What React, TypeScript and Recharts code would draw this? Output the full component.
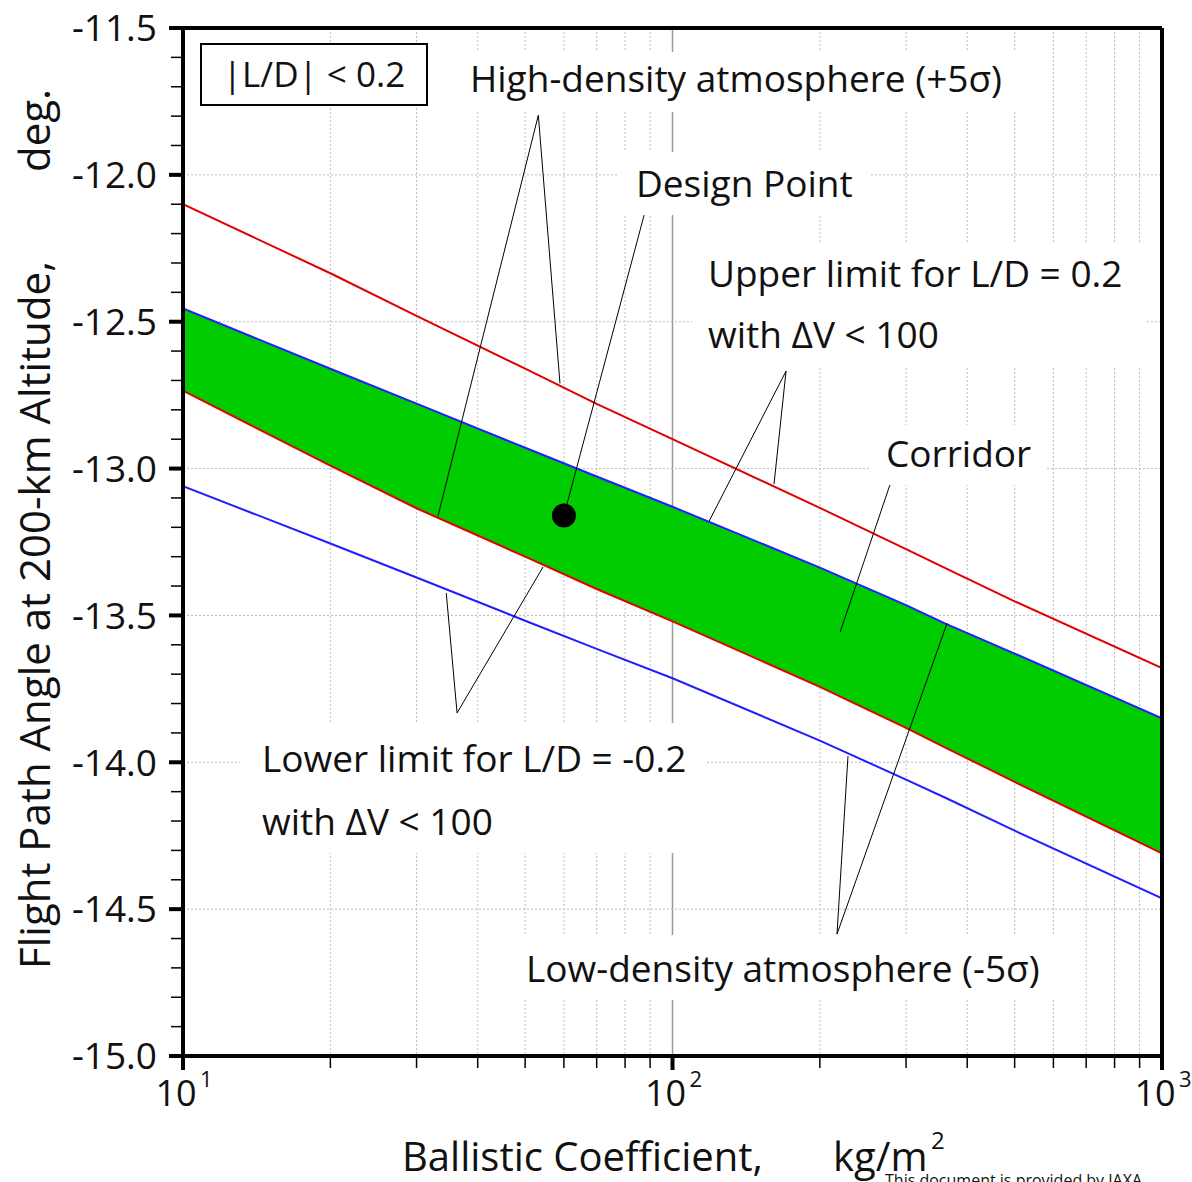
import React from 'react';
import {
  ComposedChart,
  XAxis,
  YAxis,
  CartesianGrid,
  Area,
  Line,
  ReferenceLine,
  ReferenceDot,
} from 'recharts';

// Ballistic coefficient, kg/m^2
const ballisticCoef = [10, 20, 30, 50, 70, 100, 200, 300, 360, 500, 1000];
// Flight path angle at 200-km altitude, deg.
const highDensityUpper = [-12.10, -12.335, -12.48, -12.66, -12.78, -12.90, -13.134, -13.274, -13.338, -13.452, -13.679];
const highDensityLower = [-12.735, -12.99, -13.135, -13.30, -13.41, -13.52, -13.743, -13.883, -13.949, -14.067, -14.31];
const lowDensityUpper = [-12.455, -12.66, -12.779, -12.929, -13.027, -13.13, -13.337, -13.465, -13.527, -13.63, -13.85];
const lowDensityLower = [-13.06, -13.255, -13.371, -13.518, -13.614, -13.714, -13.926, -14.059, -14.12, -14.233, -14.463];

const designPoint = { bc: 60, fpa: -13.16 };

const xTicks = [10, 20, 30, 40, 50, 60, 70, 80, 90, 100, 200, 300, 400, 500, 600, 700, 800, 900, 1000];
const xMajorTicks = [10, 100, 1000];
const xMajorExponents = ['1', '2', '3'];
const yMajorTicks = [-15.0, -14.5, -14.0, -13.5, -13.0, -12.5, -12.0, -11.5];
const yMinorTicks = Array.from({ length: 36 }, (_, i) => Math.round((-15 + i * 0.1) * 10) / 10);

// Leader lines of the annotations (data coordinates)
const leaders: { x: number; y: number }[][] = [
  [{ x: 33.2, y: -13.16 }, { x: 53.2, y: -11.797 }, { x: 58.9, y: -12.71 }],
  [{ x: 60, y: -13.16 }, { x: 87.5, y: -12.137 }],
  [{ x: 118.8, y: -13.179 }, { x: 170.6, y: -12.668 }, { x: 161.2, y: -13.053 }],
  [{ x: 278, y: -13.056 }, { x: 220, y: -13.557 }],
  [{ x: 34.5, y: -13.424 }, { x: 36.3, y: -13.832 }, { x: 54.4, y: -13.335 }],
  [{ x: 228.3, y: -13.979 }, { x: 216.8, y: -14.585 }, { x: 363.9, y: -13.526 }],
];

const data = ballisticCoef.map((bc, i) => ({
  bc,
  hiUp: highDensityUpper[i],
  hiLo: highDensityLower[i],
  loUp: lowDensityUpper[i],
  loLo: lowDensityLower[i],
  corridor: [highDensityLower[i], lowDensityUpper[i]],
}));

const FONT = '"Open Sans", "Noto Sans", sans-serif';
const RED = '#e00000';
const BLUE = '#1f1fff';
const GREEN = '#00cc00';

const XTick = (props: any) => {
  const { x, y, payload } = props;
  const v = payload.value;
  const mi = xMajorTicks.indexOf(v);
  const major = mi >= 0;
  return (
    <g>
      <line x1={x} x2={x} y1={y} y2={y + (major ? 14 : 12)} stroke="#000" strokeWidth={major ? 4 : 1.5} />
      {major && (
        <g fontFamily={FONT} fill="#111">
          <text x={x - 7} y={y + 50} textAnchor="middle" fontSize={36}>10</text>
          <text x={x + 17} y={y + 31} textAnchor="start" fontSize={22}>{xMajorExponents[mi]}</text>
        </g>
      )}
    </g>
  );
};

const YTick = (props: any) => {
  const { x, y, payload } = props;
  const v = payload.value;
  const major = yMajorTicks.some((m) => Math.abs(m - v) < 1e-6);
  return (
    <g>
      <line x1={x - (major ? 14 : 12)} x2={x} y1={y} y2={y} stroke="#000" strokeWidth={major ? 4 : 1.5} />
      {major && (
        <text x={x - 26} y={y} dy="0.36em" textAnchor="end" fontSize={37} fontFamily={FONT} fill="#111">
          {v.toFixed(1)}
        </text>
      )}
    </g>
  );
};

const annotationBoxes = [
  { x: 455, y: 52, w: 575, h: 60 },
  { x: 617, y: 152, w: 254, h: 63 },
  { x: 692, y: 242, w: 454, h: 125 },
  { x: 870, y: 425, w: 175, h: 60 },
  { x: 240, y: 723, w: 467, h: 130 },
  { x: 510, y: 935, w: 545, h: 65 },
];

const annotations = [
  { text: 'High-density atmosphere (+5σ)', x: 470, y: 92 },
  { text: 'Design Point', x: 636, y: 197 },
  { text: 'Upper limit for L/D = 0.2', x: 708, y: 287 },
  { text: 'with ΔV < 100', x: 708, y: 348 },
  { text: 'Corridor', x: 886, y: 467 },
  { text: 'Lower limit for L/D = -0.2', x: 262, y: 772 },
  { text: 'with ΔV < 100', x: 262, y: 835 },
  { text: 'Low-density atmosphere (-5σ)', x: 526, y: 982 },
];

export default function App() {
  return (
    <div style={{ position: 'absolute', left: 0, top: 0, width: 1192, height: 1182, background: '#fff' }}>
      <div style={{ position: 'absolute', left: 0, top: 0 }}>
        <ComposedChart width={1192} height={1182} data={data} margin={{ top: 28, right: 30, bottom: 66, left: 100 }}>
          <XAxis
            xAxisId={0}
            dataKey="bc"
            type="number"
            scale="log"
            domain={[10, 1000]}
            ticks={xTicks}
            interval={0}
            allowDataOverflow
            height={60}
            tickSize={0}
            tickMargin={0}
            tickLine={false}
            axisLine={{ stroke: '#000', strokeWidth: 4 }}
            tick={<XTick />}
          />
          <XAxis
            xAxisId="major"
            dataKey="bc"
            type="number"
            scale="log"
            domain={[10, 1000]}
            ticks={[100]}
            allowDataOverflow
            hide
          />
          <YAxis
            yAxisId={0}
            type="number"
            domain={[-15, -11.5]}
            ticks={yMinorTicks}
            interval={0}
            allowDataOverflow
            width={83}
            tickSize={0}
            tickMargin={0}
            tickLine={false}
            axisLine={{ stroke: '#000', strokeWidth: 4 }}
            tick={<YTick />}
          />
          <YAxis yAxisId="grid" type="number" domain={[-15, -11.5]} ticks={yMajorTicks} allowDataOverflow hide />
          <CartesianGrid xAxisId={0} yAxisId={0} horizontal={false} vertical stroke="#bdbdbd" strokeDasharray="2 2" />
          <CartesianGrid xAxisId="major" yAxisId={0} horizontal={false} vertical stroke="#9a9a9a" strokeWidth={1.5} />
          <CartesianGrid xAxisId={0} yAxisId="grid" horizontal vertical={false} stroke="#bdbdbd" strokeDasharray="2 2" />
          <Area
            xAxisId={0}
            yAxisId={0}
            type="linear"
            dataKey="corridor"
            fill={GREEN}
            fillOpacity={1}
            stroke="none"
            isAnimationActive={false}
            activeDot={false}
          />
          <Line xAxisId={0} yAxisId={0} type="linear" dataKey="hiUp" stroke={RED} strokeWidth={2} dot={false} isAnimationActive={false} />
          <Line xAxisId={0} yAxisId={0} type="linear" dataKey="hiLo" stroke={RED} strokeWidth={2} dot={false} isAnimationActive={false} />
          <Line xAxisId={0} yAxisId={0} type="linear" dataKey="loUp" stroke={BLUE} strokeWidth={2} dot={false} isAnimationActive={false} />
          <Line xAxisId={0} yAxisId={0} type="linear" dataKey="loLo" stroke={BLUE} strokeWidth={2} dot={false} isAnimationActive={false} />
          {leaders.flatMap((pts, li) =>
            pts.slice(1).map((p, i) => (
              <ReferenceLine
                key={`ld-${li}-${i}`}
                xAxisId={0}
                yAxisId={0}
                segment={[pts[i], p]}
                stroke="#000"
                strokeWidth={1}
                ifOverflow="extendDomain"
              />
            ))
          )}
          <ReferenceLine xAxisId={0} yAxisId={0} y={-11.5} stroke="#000" strokeWidth={4} />
          <ReferenceLine xAxisId={0} yAxisId={0} x={1000} stroke="#000" strokeWidth={4} />
          <ReferenceDot xAxisId={0} yAxisId={0} x={designPoint.bc} y={designPoint.fpa} r={12} fill="#000" stroke="none" />
        </ComposedChart>
      </div>
      <svg
        width={1192}
        height={1182}
        style={{ position: 'absolute', left: 0, top: 0, pointerEvents: 'none' }}
        fontFamily={FONT}
      >
        {annotationBoxes.map((b, i) => (
          <rect key={`bx-${i}`} x={b.x} y={b.y} width={b.w} height={b.h} fill="#fff" />
        ))}
        <rect x={201} y={44} width={226} height={61} fill="#fff" stroke="#000" strokeWidth={2} />
        <text x={314} y={87} textAnchor="middle" fontSize={35} fill="#111">|L/D| &lt; 0.2</text>
        {annotations.map((a, i) => (
          <text key={`an-${i}`} x={a.x} y={a.y} fontSize={37} fill="#111">
            {a.text}
          </text>
        ))}
        <text transform="translate(50,969) rotate(-90)" fontSize={42} fill="#111">
          Flight Path Angle at 200-km Altitude,
        </text>
        <text transform="translate(50,172) rotate(-90)" fontSize={42} fill="#111">
          deg.
        </text>
        <text x={402} y={1171} fontSize={40} fill="#111">Ballistic Coefficient,</text>
        <text x={833} y={1171} fontSize={40} fill="#111">kg/m</text>
        <text x={931} y={1149} fontSize={24} fill="#111">2</text>
        <text x={885} y={1186} fontSize={16} fill="#111">This document is provided by JAXA.</text>
      </svg>
    </div>
  );
}
